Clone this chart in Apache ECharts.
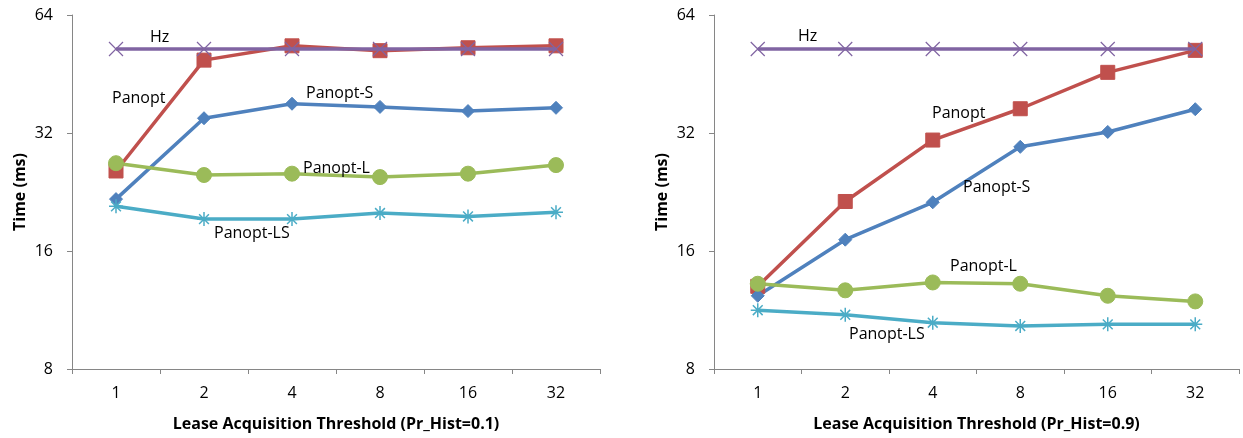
<!DOCTYPE html>
<html>
<head>
<meta charset="utf-8">
<script src="https://cdn.jsdelivr.net/npm/echarts@6/dist/echarts.min.js"></script>
<style>
  html, body { margin: 0; padding: 0; background: #fff; }
  #chart { width: 1243px; height: 438px; }
</style>
</head>
<body>
<div id="chart"></div>
<script>
// x categories: lease acquisition threshold
const thresholds = ['1', '2', '4', '8', '16', '32'];
const yTicks = [8, 16, 32, 64];

// Pr_Hist = 0.1 (left panel)
const hzLow = [52.4, 52.4, 52.4, 52.4, 52.4, 52.4];
const panoptLow = [25.6, 49.1, 53.4, 51.9, 52.8, 53.4];
const panoptSLow = [21.7, 34.9, 38.0, 37.3, 36.4, 37.1];
const panoptLLow = [26.8, 25.0, 25.2, 24.7, 25.2, 26.5];
const panoptLSLow = [20.8, 19.3, 19.3, 20.0, 19.6, 20.1];

// Pr_Hist = 0.9 (right panel)
const hzHigh = [52.4, 52.4, 52.4, 52.4, 52.4, 52.4];
const panoptHigh = [13.0, 21.4, 30.7, 36.9, 45.7, 52.0];
const panoptSHigh = [12.3, 17.1, 21.3, 29.5, 32.2, 36.8];
const panoptLHigh = [13.2, 12.7, 13.3, 13.2, 12.3, 11.9];
const panoptLSHigh = [11.3, 11.0, 10.5, 10.3, 10.4, 10.4];

const xTitles = ['Lease Acquisition Threshold (Pr_Hist=0.1)', 'Lease Acquisition Threshold (Pr_Hist=0.9)'];

const FONT = '"Open Sans", "Liberation Sans", sans-serif';
const COLORS = {
  hz: '#8064A2',
  panopt: '#C0504D',
  panoptS: '#4F81BD',
  panoptL: '#9BBB59',
  panoptLS: '#4BACC6',
};

const X_PATH = 'path://M0,0L10,10M10,0L0,10';
const STAR_PATH = 'path://M5,0L5,10M0,5L10,5M1.5,1.5L8.5,8.5M8.5,1.5L1.5,8.5';

const chart = echarts.init(document.getElementById('chart'));

const grids = [
  { left: 72, top: 15, width: 528, height: 354, outerBoundsMode: 'none', containLabel: false },
  { left: 714, top: 15, width: 525, height: 354, outerBoundsMode: 'none', containLabel: false },
];

const makeXAxis = (idx) => ({
  type: 'category',
  gridIndex: idx,
  data: thresholds,
  boundaryGap: true,
  name: xTitles[idx],
  nameLocation: 'middle',
  nameGap: 47,
  nameTextStyle: { fontFamily: FONT, fontSize: 16, fontWeight: 'bold', color: '#000' },
  axisLine: { lineStyle: { color: '#868686', width: 1 } },
  axisTick: { show: true, length: 5, alignWithLabel: false, lineStyle: { color: '#868686' } },
  axisLabel: { fontFamily: FONT, fontSize: 16, color: '#000', margin: 16 },
  splitLine: { show: false },
});

const makeYAxis = (idx) => ({
  type: 'log',
  logBase: 2,
  gridIndex: idx,
  min: yTicks[0],
  max: yTicks[yTicks.length - 1],
  name: 'Time (ms)',
  nameLocation: 'middle',
  nameGap: 44,
  nameRotate: 90,
  nameTextStyle: { fontFamily: FONT, fontSize: 16, fontWeight: 'bold', color: '#000' },
  axisLine: { show: true, lineStyle: { color: '#868686', width: 1 } },
  axisTick: { show: true, length: 5, inside: false, lineStyle: { color: '#868686' } },
  axisLabel: { fontFamily: FONT, fontSize: 16, color: '#000', margin: 19 },
  splitLine: { show: false },
});

const lineSeries = (name, data, idx, color, symbol, size, extra = {}) => ({
  name,
  type: 'line',
  xAxisIndex: idx,
  yAxisIndex: idx,
  data,
  symbol,
  symbolSize: size,
  showAllSymbol: true,
  lineStyle: { color, width: 3.5 },
  itemStyle: Object.assign({ color, borderColor: color }, extra.itemStyle || {}),
  emphasis: { disabled: true },
  animation: false,
  z: extra.z || 2,
});

const panelSeries = (idx, hz, p, ps, pl, pls) => [
  lineSeries('Panopt', p, idx, COLORS.panopt, 'rect', 14),
  lineSeries('Panopt-S', ps, idx, COLORS.panoptS, 'diamond', 13),
  lineSeries('Panopt-L', pl, idx, COLORS.panoptL, 'circle', 15),
  lineSeries('Panopt-LS', pls, idx, COLORS.panoptLS, STAR_PATH, 14, {
    itemStyle: { color: 'none', borderWidth: 1.5 },
  }),
  lineSeries('Hz', hz, idx, COLORS.hz, X_PATH, 14, {
    itemStyle: { color: 'none', borderWidth: 1.2 },
    z: 3,
  }),
];

const labelStyle = { fontFamily: FONT, fontSize: 16, fill: '#000', verticalAlign: 'middle' };
const textAt = (text, x, y) => ({
  type: 'text',
  x,
  y,
  z: 10,
  style: Object.assign({ text }, labelStyle),
});

chart.setOption({
  backgroundColor: '#fff',
  animation: false,
  grid: grids,
  xAxis: [makeXAxis(0), makeXAxis(1)],
  yAxis: [makeYAxis(0), makeYAxis(1)],
  series: [
    ...panelSeries(0, hzLow, panoptLow, panoptSLow, panoptLLow, panoptLSLow),
    ...panelSeries(1, hzHigh, panoptHigh, panoptSHigh, panoptLHigh, panoptLSHigh),
  ],
  graphic: [
    textAt('Hz', 150, 37),
    textAt('Panopt', 112, 98),
    textAt('Panopt-S', 306, 93),
    textAt('Panopt-L', 303, 168),
    textAt('Panopt-LS', 214, 233),
    textAt('Hz', 798, 36),
    textAt('Panopt', 932, 113),
    textAt('Panopt-S', 963, 187),
    textAt('Panopt-L', 950, 266),
    textAt('Panopt-LS', 849, 334),
  ],
});
</script>
</body>
</html>
